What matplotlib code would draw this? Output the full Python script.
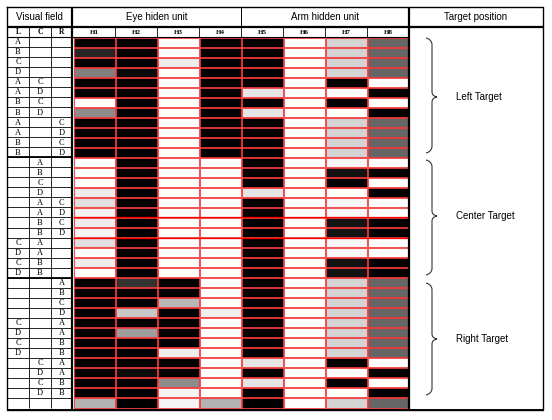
import matplotlib.pyplot as plt
import numpy as np
from matplotlib.path import Path
from matplotlib.patches import PathPatch, Rectangle

# visual field labels per row (L, C, R)
col_L = ['A','B','C','D','A','A','B','B','A','A','B','B',
         '','','','','','','','','C','D','C','D',
         '','','','','C','D','C','D','','','','','']
col_C = ['','','','','C','D','C','D','','','','',
         'A','B','C','D','A','A','B','B','A','A','B','B',
         '','','','','','','','','C','D','C','D','']
col_R = ['','','','','','','','','C','D','C','D',
         '','','','','C','D','C','D','','','','',
         'A','B','C','D','A','A','B','B','A','A','B','B','']

# hidden unit activations (0 = black, 1 = white)
H1 = [0,0.15,0,0.5,0,0,1,0.55,0,0,0,0,
      1,1,1,0.93,0.88,0.95,0.93,0.96,0.88,1,0.93,1,
      0,0,0,0,0,0,0,0,0,0,0,0,0.7]
H2 = [0,0,0,0.04,0,0,0,0,0,0,0,0,
      0,0,0,0,0,0,0,0,0,0,0,0,
      0.2,0,0,0.78,0,0.62,0,0,0,0.05,0,0,0]
H3 = [1,1,0.93,1,1,1,1,1,1,1,1,1,
      1,1,1,1,1,1,1,1,1,1,1,1,
      0,0,0.72,0,0,0,0,0.93,0,0,0.55,0.96,0.96]
H4 = [0,0,0,0,0,0,0,0,0,0,0,0,
      1,1,1,1,1,1,1,1,1,1,1,1,
      1,1,1,0.94,1,1,1,1,1,1,1,1,0.7]
H5 = [0,0,0,0,0,0.9,0,0.9,0,0,0,0,
      0,0,0,0.9,0,0,0,0,0,0,0,0,
      0,0,0,0,0,0,0,0,0.9,0,0.9,0,0]
H6 = [1,1,1,1,1,1,1,1,1,1,1,1,
      1,1,1,1,1,1,1,1,1,1,1,1,
      1,1,1,1,1,1,1,1,1,1,1,1,1]
H7 = [0.83,0.83,0.83,0.83,0,1,0,1,0.83,0.83,0.83,0.83,
      0.97,0.07,0,1,0.97,0.97,0.08,0.08,0.97,0.97,0.07,0.07,
      0.83,0.83,0.83,0.83,0.83,0.83,0.83,0.83,0,1,0,1,0.83]
H8 = [0.4,0.4,0.4,0.4,1,0,1,0,0.4,0.4,0.4,0.4,
      1,0,1,0,1,1,0,0,1,1,0,0,
      0.4,0.4,0.4,0.4,0.4,0.4,0.4,0.4,1,0,1,0,0.4]
units = ['H1','H2','H3','H4','H5','H6','H7','H8']
groups = ['Left Target', 'Center Target', 'Right Target']

fig = plt.figure(figsize=(5.52, 4.20), dpi=100)
ax = fig.add_axes([0, 0, 1, 1])
ax.set_xlim(0, 552)
ax.set_ylim(420, 0)
ax.axis('off')

n = len(H1)
y0, y1 = 37, 408
ys = np.linspace(y0, y1, n + 1)
hx = np.linspace(73, 409, len(units) + 1)
vx = [7, 29, 51, 72]

# heat cells with red borders
for j, col in enumerate([H1, H2, H3, H4, H5, H6, H7, H8]):
    for i, v in enumerate(col):
        ax.add_patch(Rectangle((hx[j] + 0.5, ys[i] + 0.5), hx[j + 1] - hx[j] - 1,
                               ys[i + 1] - ys[i] - 1, facecolor=str(v),
                               edgecolor=(0.95, 0.1, 0.1, 0.75), lw=0.75))
ax.hlines([ys[18], ys[20]], hx[0], hx[-1], color='#ff0000', lw=0.9)

# visual field table
sf = 'Liberation Serif'
for i in range(n):
    yc = (ys[i] + ys[i + 1]) / 2
    for j, lab in enumerate([col_L[i], col_C[i], col_R[i]]):
        if lab:
            ax.text((vx[j] + vx[j + 1]) / 2, yc + 0.3, lab, ha='center', va='center',
                    fontsize=6, family=sf)
ax.hlines(ys[1:-1], 7, 72, color='black', lw=0.6)
ax.hlines([ys[12], ys[24]], 7, 72, color='black', lw=1.3)
ax.vlines(vx[1:3], 27, y1, color='black', lw=0.6)

# second header row
for j, lab in enumerate(['L', 'C', 'R']):
    ax.text((vx[j] + vx[j + 1]) / 2, 32.3, lab, ha='center', va='center',
            fontsize=5.5, family=sf, weight='bold')
for j, lab in enumerate(units):
    ax.text((hx[j] + hx[j + 1]) / 2, 32.3, lab, ha='center', va='center',
            fontsize=5, family=sf, weight='bold')
ax.vlines(hx[1:-1], 27, 37, color='black', lw=0.6)
ax.hlines(37, 7, 409, color='black', lw=0.8)

# top header row
sans = 'Liberation Sans'
hdr = [(7, 72, 'Visual field'), (72, 241, 'Eye hiden unit'),
       (241, 409, 'Arm hidden unit'), (409, 543, 'Target position')]
for a, b, t in hdr:
    ax.text((a + b) / 2, 16.5, t, ha='center', va='center', fontsize=7, family=sans)
ax.vlines(241, 7, 27, color='black', lw=0.7)
ax.hlines(26.5, 7, 543, color='black', lw=1.6)
ax.vlines([72, 409], 7, 410, color='black', lw=1.6)

# outer frame
ax.plot([7, 543, 543, 7, 7], [7, 7, 410, 410, 7], color='black', lw=1.0)
ax.hlines(410, 7, 543, color='black', lw=1.4)

# braces for target groups
def brace(top, bot, tip):
    x = 432
    verts = [(426, top), (431, top + 1), (x, top + 6), (x, tip - 5),
             (x, tip - 1), (437, tip), (x, tip + 1), (x, tip + 5),
             (x, bot - 6), (431, bot - 1), (426, bot)]
    codes = [Path.MOVETO, Path.CURVE3, Path.CURVE3, Path.LINETO,
             Path.CURVE3, Path.CURVE3, Path.CURVE3, Path.CURVE3,
             Path.LINETO, Path.CURVE3, Path.CURVE3]
    ax.add_patch(PathPatch(Path(verts, codes), fc='none', ec='#333333', lw=0.8))

spans = [(38, 153, 97), (160, 275, 216), (283, 395, 339)]
for (top, bot, tip), g in zip(spans, groups):
    brace(top, bot, tip)
    ax.text(456, tip, g, ha='left', va='center', fontsize=7, family=sans)

fig.savefig('out.png', dpi=100)
